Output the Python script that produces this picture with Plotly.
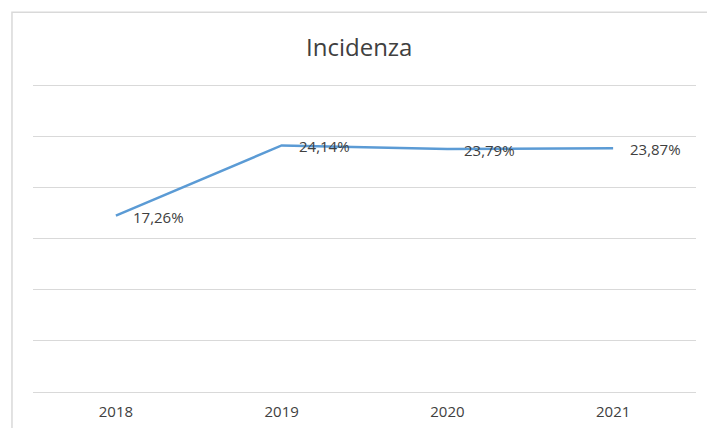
import plotly.graph_objects as go

years = ["2018", "2019", "2020", "2021"]
incidenza = [17.26, 24.14, 23.79, 23.87]
labels = [f"{v:.2f}%".replace(".", ",") for v in incidenza]

FONT = "Open Sans, Liberation Sans, sans-serif"

fig = go.Figure()
fig.add_trace(go.Scatter(
    x=years, y=incidenza, mode="lines",
    line=dict(color="#5b9bd5", width=2.5),
    showlegend=False, hoverinfo="skip",
))

annotations = [dict(x=i, y=v, text=t, xref="x", yref="y", showarrow=False,
                    xanchor="left", yanchor="middle", xshift=15, yshift=-1,
                    font=dict(family=FONT, size=15, color="#404040"))
               for i, (v, t) in enumerate(zip(incidenza, labels))]
annotations.append(dict(text="Incidenza", xref="paper", yref="paper", x=0.492, y=1.115,
                        xanchor="center", yanchor="middle", showarrow=False,
                        font=dict(family=FONT, size=24, color="#404040")))

fig.update_layout(
    width=707, height=428,
    margin=dict(l=33, r=11, t=82, b=36, autoexpand=False),
    paper_bgcolor="white", plot_bgcolor="white",
    xaxis=dict(type="category", range=[-0.5, 3.5], showgrid=False, ticks="",
               showline=False, zeroline=False, ticklabelstandoff=9, automargin=False,
               tickfont=dict(family=FONT, size=15, color="#404040")),
    yaxis=dict(range=[0, 30.35], tickvals=[0, 5, 10, 15, 20, 25, 30], showticklabels=False,
               showgrid=True, gridcolor="#d9d9d9", gridwidth=1, zeroline=True,
               zerolinecolor="#d9d9d9", zerolinewidth=1, showline=False, automargin=False),
    annotations=annotations,
    shapes=[dict(type="rect", xref="paper", yref="paper", x0=-0.0317, x1=1.2, y0=-0.5, y1=1.225,
                 line=dict(color="#d9d9d9", width=1.5), fillcolor="rgba(0,0,0,0)", layer="below")],
)

fig.write_html("out.html", config={"displayModeBar": False},
               post_script="document.body.style.margin='0';document.body.style.overflow='hidden';")
